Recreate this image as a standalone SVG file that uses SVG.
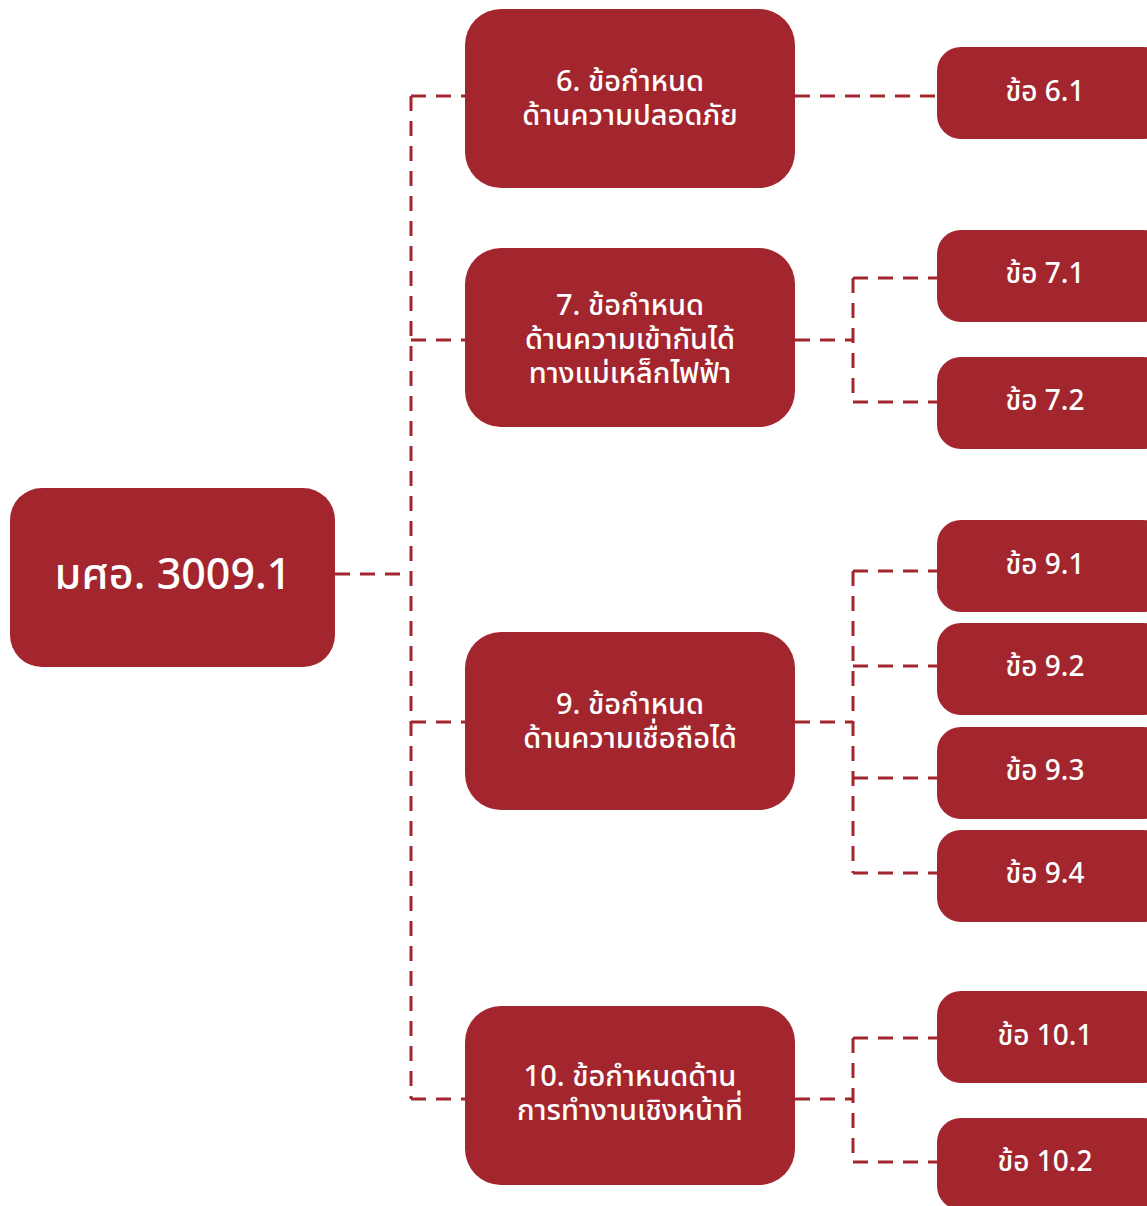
<svg xmlns="http://www.w3.org/2000/svg" width="1147" height="1206" viewBox="0 0 1147 1206">
  <style>
    .box { fill: #a3262e; }
    .lbl { fill: #ffffff; font-family: "Noto Sans Thai", "Noto Sans", "DejaVu Sans", sans-serif; font-weight: 500; text-anchor: middle; dominant-baseline: central; }
    .mid { font-size: 29px; }
    .leaf { font-size: 28px; }
    .root { font-size: 43px; }
    .link { fill: none; stroke: #a3262e; stroke-width: 3; stroke-dasharray: 15 10; }
  </style>
  <rect width="1147" height="1206" fill="#ffffff"/>

  <!-- dashed connectors -->
  <g id="connectors">
    <path class="link" d="M335 574 H411"/>
    <path class="link" d="M411 96 V1099"/>
    <path class="link" d="M411 96 H465 M411 340 H465 M411 722 H465 M411 1099 H465"/>
    <path class="link" d="M795 96 H937"/>
    <path class="link" d="M795 340 H853 M853 278 V402 M853 278 H937 M853 402 H937"/>
    <path class="link" d="M795 722 H853 M853 571 V873 M853 571 H937 M853 666 H937 M853 778 H937 M853 873 H937"/>
    <path class="link" d="M795 1099 H853 M853 1038 V1162 M853 1038 H937 M853 1162 H937"/>
  </g>

  <!-- root -->
  <g id="node-root">
    <rect class="box" x="10" y="488" width="325" height="179" rx="32"/>
    <text class="lbl root" x="173" y="575">มศอ. 3009.1</text>
  </g>

  <!-- section nodes -->
  <g id="node-6">
    <rect class="box" x="465" y="9" width="330" height="179" rx="36"/>
    <text class="lbl mid" x="630" y="82">6. ข้อกำหนด</text>
    <text class="lbl mid" x="630" y="116">ด้านความปลอดภัย</text>
  </g>
  <g id="node-7">
    <rect class="box" x="465" y="248" width="330" height="179" rx="36"/>
    <text class="lbl mid" x="630" y="306">7. ข้อกำหนด</text>
    <text class="lbl mid" x="630" y="340">ด้านความเข้ากันได้</text>
    <text class="lbl mid" x="630" y="374">ทางแม่เหล็กไฟฟ้า</text>
  </g>
  <g id="node-9">
    <rect class="box" x="465" y="632" width="330" height="178" rx="36"/>
    <text class="lbl mid" x="630" y="705">9. ข้อกำหนด</text>
    <text class="lbl mid" x="630" y="739">ด้านความเชื่อถือได้</text>
  </g>
  <g id="node-10">
    <rect class="box" x="465" y="1006" width="330" height="179" rx="36"/>
    <text class="lbl mid" x="630" y="1077">10. ข้อกำหนดด้าน</text>
    <text class="lbl mid" x="630" y="1111">การทำงานเชิงหน้าที่</text>
  </g>

  <!-- clause nodes -->
  <g id="node-6-1">
    <rect class="box" x="937" y="47" width="230" height="92" rx="24"/>
    <text class="lbl leaf" x="1045" y="92">ข้อ 6.1</text>
  </g>
  <g id="node-7-1">
    <rect class="box" x="937" y="230" width="230" height="92" rx="24"/>
    <text class="lbl leaf" x="1045" y="274">ข้อ 7.1</text>
  </g>
  <g id="node-7-2">
    <rect class="box" x="937" y="357" width="230" height="92" rx="24"/>
    <text class="lbl leaf" x="1045" y="401">ข้อ 7.2</text>
  </g>
  <g id="node-9-1">
    <rect class="box" x="937" y="520" width="230" height="92" rx="24"/>
    <text class="lbl leaf" x="1045" y="565">ข้อ 9.1</text>
  </g>
  <g id="node-9-2">
    <rect class="box" x="937" y="623" width="230" height="92" rx="24"/>
    <text class="lbl leaf" x="1045" y="667">ข้อ 9.2</text>
  </g>
  <g id="node-9-3">
    <rect class="box" x="937" y="727" width="230" height="92" rx="24"/>
    <text class="lbl leaf" x="1045" y="771">ข้อ 9.3</text>
  </g>
  <g id="node-9-4">
    <rect class="box" x="937" y="830" width="230" height="92" rx="24"/>
    <text class="lbl leaf" x="1045" y="874">ข้อ 9.4</text>
  </g>
  <g id="node-10-1">
    <rect class="box" x="937" y="991" width="230" height="92" rx="24"/>
    <text class="lbl leaf" x="1045" y="1036">ข้อ 10.1</text>
  </g>
  <g id="node-10-2">
    <rect class="box" x="937" y="1118" width="230" height="92" rx="24"/>
    <text class="lbl leaf" x="1045" y="1162">ข้อ 10.2</text>
  </g>
</svg>
